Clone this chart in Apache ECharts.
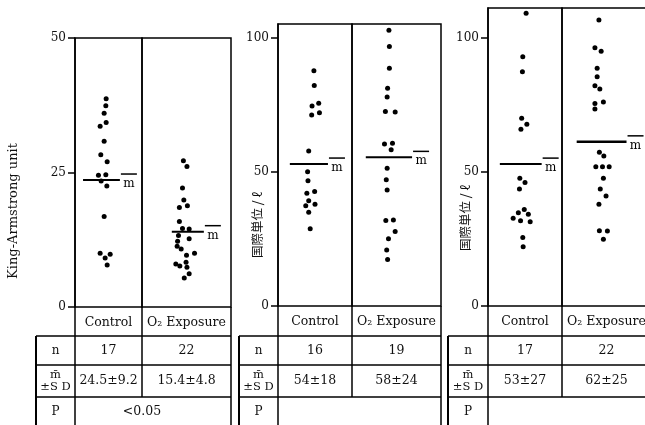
<!DOCTYPE html>
<html><head><meta charset="utf-8">
<script src="https://cdn.jsdelivr.net/npm/echarts@6/dist/echarts.min.js"></script>
<style>html,body{margin:0;padding:0;background:#fff}#c{width:645px;height:425px}</style>
</head><body><div id="c"></div>
<script>
// ---------------- data ----------------
const groups = ['Control', 'O₂ Exposure'];
const axisTitles = ['King-Armstrong unit', '国際単位 / ℓ', '国際単位 / ℓ'];
const yTicks = [[0, 25, 50], [0, 50, 100], [0, 50, 100]];
const yMax = [50, 105.3, 111.1];

const p1Control    = [38.7,37.4,36.0,34.3,33.6,30.8,28.3,27.0,24.6,24.5,23.4,22.5,16.8,10.0,9.8,9.1,7.8];
const p1ControlJit = [-0.07,-0.08,-0.13,-0.07,-0.25,-0.13,-0.23,-0.04,-0.08,-0.30,-0.22,-0.05,-0.13,-0.25,0.05,-0.10,-0.04];
const p1O2         = [27.2,26.1,22.1,19.9,18.8,18.5,15.9,14.6,14.5,13.3,12.7,12.2,11.3,10.8,10.0,9.6,8.3,8.0,7.6,7.4,6.2,5.4];
const p1O2Jit      = [-0.07,0.01,-0.09,-0.06,0.02,-0.16,-0.16,-0.09,0.06,-0.18,0.06,-0.20,-0.21,-0.12,0.18,0.00,-0.01,-0.24,-0.15,0.01,0.06,-0.05];

const p2Control    = [87.8,82.3,75.7,74.7,72.2,71.3,57.9,50.1,46.8,42.8,42.1,39.3,38.0,37.4,35.0,28.8];
const p2ControlJit = [-0.03,-0.02,0.10,-0.08,0.12,-0.09,-0.17,-0.20,-0.19,-0.01,-0.22,-0.17,0.00,-0.25,-0.17,-0.13];
const p2O2         = [103.0,96.9,88.8,81.3,78.0,72.6,72.4,60.8,60.5,58.3,51.4,47.1,43.3,32.1,31.9,27.8,25.1,20.9,17.4];
const p2O2Jit      = [-0.17,-0.16,-0.16,-0.20,-0.21,-0.25,-0.03,-0.09,-0.27,-0.12,-0.21,-0.23,-0.21,-0.07,-0.24,-0.03,-0.18,-0.22,-0.20];

const p3Control    = [109.1,92.9,87.3,70.0,67.8,65.9,47.6,46.0,43.6,36.0,34.8,34.2,32.7,31.8,31.4,25.5,22.1];
const p3ControlJit = [0.03,-0.06,-0.07,-0.09,0.05,-0.11,-0.14,0.00,-0.15,-0.02,-0.18,0.09,-0.32,-0.12,0.14,-0.06,-0.05];
const p3O2         = [106.6,96.3,95.0,88.6,85.5,82.1,80.9,76.1,75.5,73.4,57.3,55.9,51.9,51.9,51.9,47.6,43.6,41.0,37.9,28.1,28.0,24.9];
const p3O2Jit      = [-0.17,-0.26,-0.12,-0.21,-0.21,-0.26,-0.15,-0.07,-0.26,-0.26,-0.16,-0.06,-0.24,-0.09,0.06,-0.07,-0.14,-0.01,-0.17,-0.16,0.02,-0.07];

const drawnMeans = [[23.6, 14.0], [53.0, 55.5], [52.9, 61.2]];
const nCounts = [[17, 22], [16, 19], [17, 22]];
const meanSD = [['24.5±9.2', '15.4±4.8'], ['54±18', '58±24'], ['53±27', '62±25']];
const pValues = ['<0.05', '', ''];

const values = [[p1Control, p1O2], [p2Control, p2O2], [p3Control, p3O2]];
const jitters = [[p1ControlJit, p1O2Jit], [p2ControlJit, p2O2Jit], [p3ControlJit, p3O2Jit]];

// ---------------- layout / style ----------------
const layout = [
  {lab: 36,  axis: 75,  div: 142, right: 231, top: 38, bottom: 307, tx: 14,  ty: 211},
  {lab: 239, axis: 278, div: 352, right: 441, top: 24, bottom: 306, tx: 257, ty: 225},
  {lab: 448, axis: 488, div: 562, right: 651, top: 8,  bottom: 306, tx: 465, ty: 218}
];
const meanSpan = [[[-0.76, 0.34], [-0.33, 0.39]], [[-0.68, 0.35], [-0.69, 0.35]], [[-0.68, 0.45], [-0.67, 0.45]]];
const rowN = 336, rowSD = 365, rowP = 397, rowEnd = 430;
const SERIF = '"DejaVu Serif", "Liberation Serif", serif';
const INK = '#111';

const grid = [], xAxis = [], yAxis = [], series = [], graphic = [];

layout.forEach((L, p) => {
  [0, 1].forEach(c => {
    const g = p * 2 + c;
    const left = c === 0 ? L.axis : L.div;
    const right = c === 0 ? L.div : L.right;
    grid.push({left: left, top: L.top, width: right - left, height: L.bottom - L.top,
      show: true, borderColor: '#000', borderWidth: 1.5, backgroundColor: 'transparent',
      containLabel: false, outerBoundsMode: 'none'});
    xAxis.push({gridIndex: g, type: 'value', min: -1, max: 1, show: false,
      axisLine: {onZero: false}});
    yAxis.push({gridIndex: g, type: 'value', min: 0, max: yMax[p], show: c === 0,
      splitLine: {show: false}, axisLine: {show: true, onZero: false, lineStyle: {color: '#000', width: 1.5}},
      axisTick: {show: c === 0, inside: false, length: 7, customValues: yTicks[p], lineStyle: {color: '#000', width: 1.5}},
      axisLabel: {show: c === 0, customValues: yTicks[p], margin: 9, color: INK, fontFamily: SERIF, fontSize: 12}});
    series.push({type: 'scatter', xAxisIndex: g, yAxisIndex: g, symbolSize: 5, silent: true,
      itemStyle: {color: '#000', opacity: 1},
      data: values[p][c].map((v, i) => [jitters[p][c][i], v])});
    const sp = meanSpan[p][c];
    series.push({type: 'line', xAxisIndex: g, yAxisIndex: g, symbol: 'none', silent: true,
      lineStyle: {color: '#000', width: c === 1 && p === 2 ? 2.5 : 2},
      data: [[sp[0], drawnMeans[p][c]], [sp[1], drawnMeans[p][c]]],
      endLabel: {show: true, distance: 1, formatter: '{b| }\n{m|m}',
        rich: {b: {width: 16, height: 1.5, lineHeight: 8, fontSize: 1, backgroundColor: '#000'},
               m: {width: 16, align: 'center', fontFamily: SERIF, fontSize: 12, lineHeight: 12, color: '#000'}}}});
  });

  // axis title
  graphic.push({type: 'text', x: L.tx, y: L.ty, rotation: Math.PI / 2,
    style: {text: axisTitles[p], fill: INK, align: 'center', verticalAlign: 'middle',
      font: p === 0 ? '13px ' + SERIF : '12.5px "Noto Sans CJK JP"'}});

  // table lines
  const ln = (x1, y1, x2, y2, w) => graphic.push({type: 'line', silent: true,
    shape: {x1: x1, y1: y1, x2: x2, y2: y2}, style: {stroke: '#000', lineWidth: w || 1.5}});
  ln(L.axis, L.bottom, L.axis, rowEnd);
  ln(L.div, L.bottom, L.div, rowP);
  ln(L.right, L.bottom, L.right, rowEnd);
  ln(L.lab, rowN, L.lab, rowEnd, 2);
  [rowN, rowSD, rowP].forEach(y => ln(L.lab, y, L.right, y));

  // table texts
  const txt = (x, y, t, size) => graphic.push({type: 'text', x: x, y: y, silent: true,
    style: {text: t, fill: INK, align: 'center', verticalAlign: 'middle', font: (size || 12.5) + 'px ' + SERIF, lineHeight: 12}});
  const cx = [(L.axis + L.div) / 2, (L.div + L.right) / 2];
  const lx = (L.lab + L.axis) / 2;
  [0, 1].forEach(c => {
    txt(cx[c], (L.bottom + rowN) / 2 + 1, groups[c]);
    txt(cx[c], (rowN + rowSD) / 2, String(nCounts[p][c]));
    txt(cx[c], (rowSD + rowP) / 2, meanSD[p][c]);
  });
  txt(lx, (rowN + rowSD) / 2, 'n', 12);
  txt(lx, (rowSD + rowP) / 2, 'm̄\n±S D', 11.5);
  txt(lx, (rowP + rowEnd) / 2 - 2, 'P', 12);
  if (pValues[p]) txt(L.div, (rowP + rowEnd) / 2 - 2, pValues[p]);
});

const chart = echarts.init(document.getElementById('c'), null, {renderer: 'canvas'});
chart.setOption({animation: false, backgroundColor: '#fff', grid, xAxis, yAxis, series, graphic});
</script></body></html>
